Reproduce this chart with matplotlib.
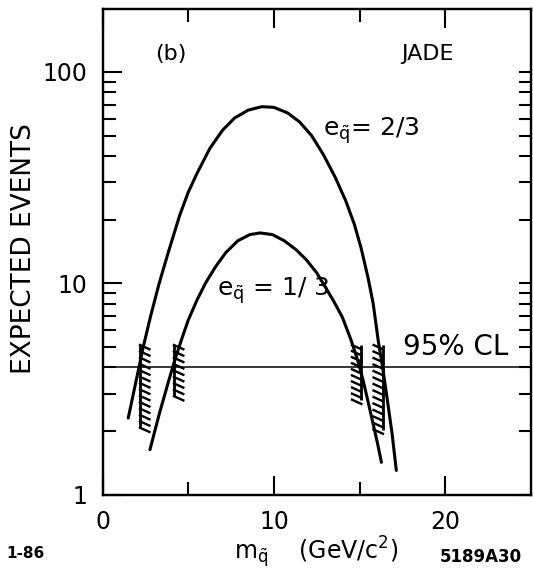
import matplotlib
matplotlib.use("Agg")
import matplotlib.pyplot as plt
from matplotlib.ticker import FixedFormatter, NullFormatter, LogLocator
import numpy as np

# curves: squark mass (GeV/c^2) vs expected events
m_23 = [1.49, 1.9, 2.37, 2.8, 3.3, 3.83, 4.5, 5.0, 5.5, 6.26, 7.0, 7.7, 8.5,
        9.3, 10.0, 10.8, 11.5, 12.2, 12.9, 13.6, 14.2, 14.7, 15.1, 15.5,
        15.8, 16.1, 16.35, 16.6, 16.9, 17.15]
ev_23 = [2.3, 3.3, 5.0, 7.0, 10.0, 14.0, 21.0, 27.0, 33.0, 43.5, 53.0, 60.5,
         66.0, 68.5, 68.0, 64.0, 58.0, 50.0, 40.5, 31.5, 24.5, 19.0, 14.6,
         10.6, 8.0, 5.3, 4.0, 2.9, 1.95, 1.3]

m_13 = [2.76, 3.3, 3.83, 4.2, 4.6, 5.0, 5.5, 6.0, 6.6, 7.2, 7.9, 8.6, 9.2,
        9.9, 10.6, 11.3, 11.9, 12.5, 13.0, 13.5, 14.0, 14.5, 14.9, 15.2,
        15.5, 15.8, 16.05, 16.28]
ev_13 = [1.63, 2.4, 3.4, 4.3, 5.4, 6.7, 8.3, 10.0, 12.0, 14.0, 15.9, 17.0,
         17.3, 17.0, 15.9, 14.4, 12.9, 11.2, 9.6, 8.2, 6.9, 5.4, 4.3, 3.5,
         2.75, 2.15, 1.75, 1.42]

cl95 = 4.0

# hatched bands where the curves cross the limit
band_x = [2.18, 4.16, 15.11, 16.37]
band_lo = [2.07, 2.92, 2.81, 2.03]
band_hi = [5.1, 5.1, 5.1, 5.1]
band_side = [1, 1, -1, -1]

ytick_vals = [1, 10, 100]
ytick_labels = ["1", "10", "100"]
xtick_vals = [0, 10, 20]
xtick_labels = ["0", "10", "20"]

plt.rcParams["font.family"] = ["DejaVu Sans"]

fig = plt.figure(figsize=(5.33, 5.88), dpi=100)
ax = fig.add_axes([0.1927, 0.159, 0.8030, 0.8252])

ax.plot(m_23, ev_23, color="black", lw=2.2, solid_capstyle="round",
        solid_joinstyle="round")
ax.plot(m_13, ev_13, color="black", lw=2.2, solid_capstyle="round",
        solid_joinstyle="round")
ax.axhline(cl95, color="black", lw=1.1)

# hatch marks
L = 0.55
for x0, lo, hi, side in zip(band_x, band_lo, band_hi, band_side):
    ax.vlines(x0, lo, hi, color="black", lw=2.0)
    n = int(round(np.log10(hi / lo) / 0.03)) + 1
    for y in np.geomspace(lo, hi, n):
        if side > 0:
            ax.plot([x0, x0 + L], [y, y * 0.955], color="black", lw=1.7)
        else:
            ax.plot([x0 - L, x0], [y, y * 0.955], color="black", lw=1.7)

ax.set_yscale("log")
ax.set_xlim(0, 25)
ax.set_ylim(1, 198)

ax.set_xticks(xtick_vals)
ax.set_xticklabels(xtick_labels)
ax.set_xticks([5, 15], minor=True)
ax.set_yticks(ytick_vals)
ax.yaxis.set_major_formatter(FixedFormatter(ytick_labels))
ax.yaxis.set_minor_locator(LogLocator(subs=np.arange(2, 10)))
ax.yaxis.set_minor_formatter(NullFormatter())

ax.tick_params(which="both", direction="in", top=True, right=False,
               width=1.5, labelsize=17, pad=11)
ax.tick_params(which="major", length=14)
ax.tick_params(which="minor", length=9.5)

ax2 = ax.twinx()
ax2.set_yscale("log")
ax2.set_ylim(ax.get_ylim())
ax2.yaxis.set_minor_locator(LogLocator(subs=np.arange(2, 10)))
ax2.tick_params(which="both", direction="in", length=8.5, width=1.5,
                labelright=False)

for a in (ax, ax2):
    for s in a.spines.values():
        s.set_linewidth(1.6)

ax.set_ylabel("EXPECTED EVENTS", fontsize=19, va="center")
ax.yaxis.set_label_coords(-0.185, 0.506)
ax.set_xlabel(r"$\mathrm{m}_{\tilde{\mathrm{q}}}$    (GeV/c$^2$)", fontsize=17,
              va="center")
ax.xaxis.set_label_coords(0.498, -0.1185)

ax.text(3.98, 121.6, "(b)", fontsize=16, ha="center", va="center")
ax.text(18.98, 121.6, "JADE", fontsize=16, ha="center", va="center")
ax.text(12.85, 53, r"$\mathrm{e}_{\tilde{\mathrm{q}}}$= 2/3", fontsize=18,
        ha="left", va="center")
ax.text(6.7, 9.2, r"$\mathrm{e}_{\tilde{\mathrm{q}}}$ = 1/ 3", fontsize=18,
        ha="left", va="center")
ax.text(17.52, 4.98, "95% CL", fontsize=20, ha="left", va="center")

fig.text(6.7 / 533, 1 - 554 / 588, "1-86", fontsize=11, fontweight="bold",
         ha="left", va="center")
fig.text(522 / 533, 1 - 557 / 588, "5189A30", fontsize=12, fontweight="bold",
         ha="right", va="center")

fig.savefig("out.png", dpi=100)
